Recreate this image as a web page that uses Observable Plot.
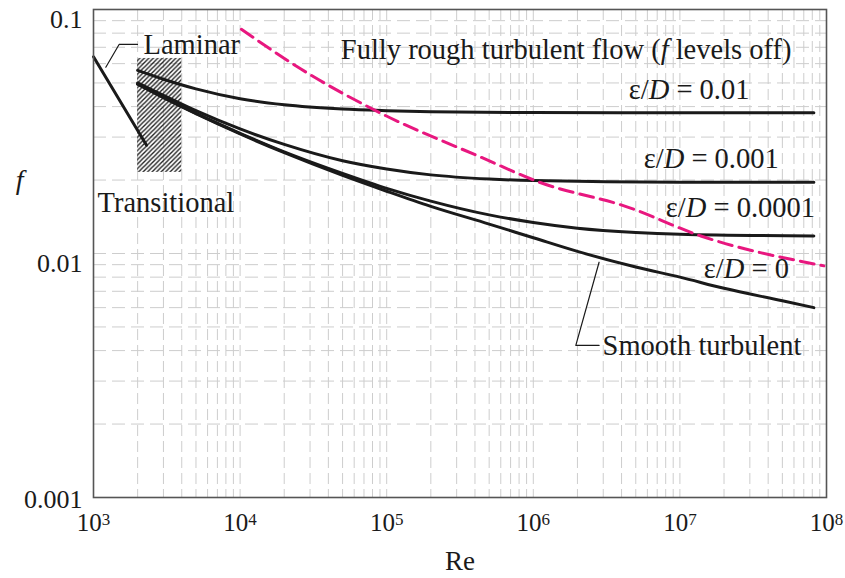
<!DOCTYPE html>
<html><head><meta charset="utf-8">
<script src="https://cdn.jsdelivr.net/npm/d3@7"></script>
<script src="https://cdn.jsdelivr.net/npm/@observablehq/plot@0.6"></script>
<style>body{margin:0;background:#fff} svg text{font-family:'Liberation Serif','Times New Roman',serif !important}</style>
</head><body><div id="chart"></div>
<script>
// ---- data ----
const reLaminar = [1000, 2300];
const fLaminar  = [0.064, 0.0278];

const reRough001 = [2000, 3000, 5000, 1e4, 2e4, 5e4, 1e5, 2e5, 1e6, 1e7, 8.2e7];
const fRough001  = [0.0563, 0.0518, 0.0473, 0.0431, 0.0407, 0.0391, 0.0385, 0.0381, 0.0378, 0.0377, 0.0377];

const reRough0001 = [2000, 3000, 5000, 1e4, 2e4, 5e4, 1e5, 2e5, 5e5, 1e6, 1e7, 8.2e7];
const fRough0001  = [0.0500, 0.0445, 0.0385, 0.0324, 0.0280, 0.0240, 0.0222, 0.0210, 0.0202, 0.0199, 0.0196, 0.0196];

const reRough00001 = [2000, 3000, 5000, 1e4, 2e4, 5e4, 1e5, 2e5, 5e5, 1e6, 2e6, 5e6, 1e7, 8.2e7];
const fRough00001  = [0.0495, 0.0436, 0.0375, 0.0311, 0.0261, 0.0213, 0.0185, 0.0164, 0.0144, 0.0134, 0.0127, 0.0122, 0.0120, 0.0118];

const reSmooth = [2000, 3000, 5000, 1e4, 2e4, 5e4, 1e5, 2e5, 5e5, 1e6, 2e6, 5e6, 1e7, 2e7, 5e7, 8.2e7];
const fSmooth  = [0.0494, 0.0435, 0.0374, 0.0309, 0.0259, 0.0209, 0.0180, 0.0156, 0.0132, 0.0116, 0.0102, 0.0088, 0.0080, 0.0072, 0.0064, 0.0060];

const reFullyRough = [1.02e4, 2.6e4, 9.1e4, 4.4e5, 1.1e6, 4.4e6, 1.39e7, 9.6e7];
const fFullyRough  = [0.083, 0.057, 0.0376, 0.0248, 0.0196, 0.0155, 0.0118, 0.0089];

const hatchRe = [2000, 4000];
const hatchF  = [0.0215, 0.063];

const xTickValues = [1e3, 1e4, 1e5, 1e6, 1e7, 1e8];
const yTickValues = [0.1, 0.01, 0.001];

const labels = ["Laminar", "Transitional", "Fully rough turbulent flow (f levels off)",
  "ε/D = 0.01", "ε/D = 0.001", "ε/D = 0.0001", "ε/D = 0", "Smooth turbulent"];
const labelRe = [2193, 1065, 48640, 4.48e6, 5.67e6, 8.02e6, 1.456e7, 2.97e6];
const labelF  = [0.0660, 0.01486, 0.0624, 0.04317, 0.02231, 0.01408, 0.0079, 0.00382];

const leaderLaminarRe = [1213, 1495, 1996];
const leaderLaminarF  = [0.0580, 0.0719, 0.0719];
const leaderSmoothRe  = [2.81e6, 1.95e6, 2.81e6];
const leaderSmoothF   = [0.00921, 0.0042, 0.0042];

// ---- build ----
const pts = (xs, ys) => xs.map((x, i) => ({x, y: ys[i]}));
const gridX = [];
for (let k = 3; k < 8; k++) for (let m = 1; m < 10; m++) gridX.push(m * 10 ** k);
gridX.push(1e8);
const gridY = [];
for (let k = -3; k < -1; k++) for (let m = 1; m < 10; m++) gridY.push(+(m * 10 ** k).toPrecision(3));
gridY.push(0.1);

const serif = "'Liberation Serif', 'Times New Roman', serif";
const ink = "#1a1a1a";

const svg = Plot.plot({
  width: 845, height: 578,
  marginLeft: 93, marginRight: 19, marginTop: 9, marginBottom: 81,
  style: {fontFamily: serif, background: "#fff", color: ink},
  x: {type: "log", domain: [1e3, 1e8]},
  y: {type: "log", domain: [0.001, 0.1]},
  marks: [
    Plot.gridX(gridX, {stroke: "#cdcdcd", strokeOpacity: 1, strokeDasharray: "11,5"}),
    Plot.gridY(gridY, {stroke: "#cdcdcd", strokeOpacity: 1, strokeDasharray: "13,6"}),
    Plot.rect([0], {x1: () => hatchRe[0], x2: () => hatchRe[1], y1: () => hatchF[0], y2: () => hatchF[1], fill: "url(#hatch)"}),
    Plot.line(pts(reLaminar, fLaminar), {x: "x", y: "y", stroke: ink, strokeWidth: 3}),
    Plot.line(pts(reRough001, fRough001), {x: "x", y: "y", stroke: ink, strokeWidth: 3, curve: "monotone-x"}),
    Plot.line(pts(reRough0001, fRough0001), {x: "x", y: "y", stroke: ink, strokeWidth: 3, curve: "monotone-x"}),
    Plot.line(pts(reRough00001, fRough00001), {x: "x", y: "y", stroke: ink, strokeWidth: 3, curve: "monotone-x"}),
    Plot.line(pts(reSmooth, fSmooth), {x: "x", y: "y", stroke: ink, strokeWidth: 3, curve: "monotone-x"}),
    Plot.line(pts(reFullyRough, fFullyRough), {x: "x", y: "y", stroke: "#e8177f", strokeWidth: 3, strokeDasharray: "14,7", curve: "monotone-x"}),
    Plot.line(pts(leaderLaminarRe, leaderLaminarF), {x: "x", y: "y", stroke: ink, strokeWidth: 1.2}),
    Plot.line(pts(leaderSmoothRe, leaderSmoothF), {x: "x", y: "y", stroke: ink, strokeWidth: 1.2}),
    Plot.text(labels, {x: (d, i) => labelRe[i], y: (d, i) => labelF[i], text: d => d,
      textAnchor: "start", lineAnchor: "bottom", fontSize: 28.5, fontFamily: serif, fill: ink}),
    Plot.frame({stroke: "#555", strokeWidth: 1.6}),
    Plot.axisX(xTickValues, {tickSize: 0, tickPadding: 16, fontSize: 25, fontFamily: serif, label: null,
      tickFormat: d => "10^" + Math.round(Math.log10(d))}),
    Plot.axisY(yTickValues.slice(0, 2), {tickSize: 0, tickPadding: 11, dy: 10, fontSize: 26, fontFamily: serif, label: null,
      tickFormat: d => String(d)}),
    Plot.axisY(yTickValues.slice(2), {tickSize: 0, tickPadding: 11, dy: 2, fontSize: 26, fontFamily: serif, label: null,
      tickFormat: d => String(d)}),
    Plot.text(["Re"], {x: () => 316228, y: () => 0.000505, text: d => d, textAnchor: "middle",
      lineAnchor: "bottom", fontSize: 27, fontFamily: serif, fill: ink}),
    Plot.text(["f"], {x: () => 314, y: () => 0.01846, text: d => d, textAnchor: "middle",
      lineAnchor: "bottom", fontSize: 28, fontStyle: "italic", fontFamily: serif, fill: ink})
  ]
});

const root = d3.select(svg);
const defs = root.insert("defs", ":first-child");
const pat = defs.append("pattern").attr("id", "hatch").attr("patternUnits", "userSpaceOnUse")
  .attr("width", 4.5).attr("height", 4.5);
pat.append("path").attr("d", "M-1,1 l2,-2 M0,4.5 l4.5,-4.5 M3.5,5.5 l2,-2")
  .attr("stroke", "#222").attr("stroke-width", 1.4);

root.selectAll("text").each(function () {
  const t = this.textContent;
  let m;
  if ((m = /^10\^(\d)$/.exec(t))) {
    this.innerHTML = "10<tspan dy='-0.36em' font-size='0.68em'>" + m[1] + "</tspan>";
  } else if (t.startsWith("ε/D")) {
    this.innerHTML = "ε/<tspan font-style='italic'>D</tspan>" + t.slice(3);
  } else if (t.includes("(f levels off)")) {
    this.innerHTML = "Fully rough turbulent flow (<tspan font-style='italic'>f</tspan> levels off)";
  }
});

document.getElementById("chart").appendChild(svg);
</script>
</body></html>
